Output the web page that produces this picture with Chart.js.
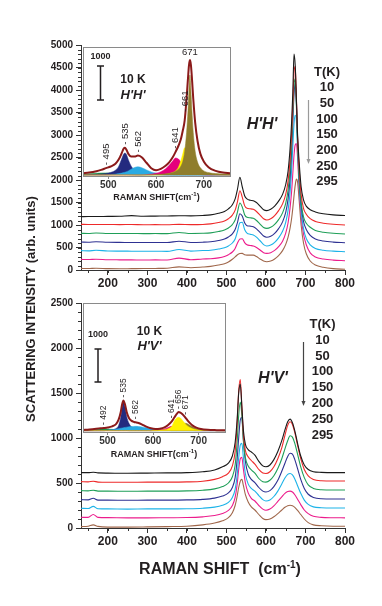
<!DOCTYPE html>
<html>
<head>
<meta charset="utf-8">
<title>Raman spectra H'H' / H'V'</title>
<script src="https://cdn.jsdelivr.net/npm/chart.js@4.4.0/dist/chart.umd.min.js"></script>
<style>
  html, body { margin: 0; padding: 0; background: #fff; }
  #wrap { position: relative; width: 382px; height: 606px; }
  #wrap canvas { position: absolute; left: 0; top: 0; }
</style>
</head>
<body>
<div id="wrap">
  <canvas id="mainHH" width="382" height="606"></canvas>
  <canvas id="mainHV" width="382" height="606"></canvas>
  <canvas id="insetHH" width="382" height="606"></canvas>
  <canvas id="insetHV" width="382" height="606"></canvas>
</div>
<script>
// ---- data ----
const TEMPS = ['10', '50', '100', '150', '200', '250', '295'];

// H'H' spectra (raman shift, intensity)
const HH_X = [132,150,170,200,230,260,290,320,350,380,410,440,460,480,495,505,515,522,528,534,540,546,552,560,568,576,585,594,602,612,622,632,642,650,656,661,665,668,671,674,677,680,684,689,695,702,712,725,745,770,800];
const HH_10K = [1185,1190,1188,1192,1195,1208,1195,1198,1200,1205,1203,1212,1225,1260,1300,1360,1450,1580,1800,2060,1850,1650,1580,1550,1540,1500,1420,1340,1320,1350,1420,1530,1680,1900,2200,2700,3300,3950,4800,4550,3800,3000,2400,1850,1560,1420,1340,1290,1250,1225,1210];
const HH_50K = [1015,1012,1010,1012,1008,1012,1005,1008,1006,1015,1008,1012,1025,1055,1090,1140,1220,1330,1520,1760,1620,1430,1370,1360,1348,1300,1220,1140,1112,1140,1210,1320,1470,1680,1980,2450,3050,3700,4400,4520,3850,2950,2250,1680,1370,1240,1140,1080,1040,1015,1000];
const HH_100K = [815,812,822,812,810,812,808,810,808,835,812,815,825,855,890,935,1010,1110,1290,1490,1400,1230,1170,1160,1148,1100,1020,945,925,950,1015,1120,1270,1480,1780,2230,2850,3500,4100,4250,3650,2800,2050,1500,1180,1040,950,880,840,815,800];
const HH_150K = [622,618,628,615,613,612,610,612,610,640,612,618,628,655,690,735,805,900,1060,1250,1200,1050,985,975,963,915,835,755,728,750,815,920,1070,1280,1580,2030,2650,3300,3900,4150,3750,2900,2050,1450,1080,900,770,690,645,620,607];
const HH_200K = [430,425,438,422,420,418,416,418,415,455,420,432,440,465,495,535,600,690,860,1050,1060,900,820,795,778,730,650,565,535,555,615,715,860,1060,1330,1730,2230,2750,3250,3440,3300,2700,1900,1300,920,700,560,480,440,420,407];
const HH_250K = [237,232,240,228,226,225,222,224,222,265,228,245,250,270,300,340,400,480,600,690,695,610,560,545,533,500,445,385,370,385,435,520,640,820,1050,1380,1750,2150,2550,2780,2810,2500,1800,1200,800,560,380,290,245,220,207];
const HH_295K = [37,32,40,30,28,30,32,35,40,70,50,65,80,110,140,180,240,290,340,365,370,340,330,330,330,300,245,200,185,200,245,320,430,570,730,930,1150,1380,1650,1880,2020,1960,1550,1000,600,360,200,110,60,30,15];

// H'V' spectra
const HV_X = [132,150,163,175,200,250,300,350,400,440,470,490,505,515,522,527,531,535,539,543,548,555,563,572,582,592,600,610,620,630,640,648,655,661,667,673,680,688,697,707,720,740,770,800];
const HV_10K = [615,615,620,612,610,608,610,612,615,625,645,680,720,800,950,1200,1500,1600,1350,1080,930,870,845,810,740,690,680,700,760,850,970,1090,1180,1210,1170,1080,940,800,700,650,625,618,615,615];
const HV_50K = [515,512,520,510,508,508,510,510,512,520,540,570,610,690,850,1150,1520,1650,1350,1030,860,790,750,710,650,610,605,625,680,770,890,1030,1140,1180,1150,1060,920,770,650,580,540,525,522,522];
const HV_100K = [415,412,420,410,410,408,410,410,412,420,435,460,500,570,700,950,1250,1400,1250,960,780,690,645,610,550,515,510,530,580,660,770,880,970,1025,1010,940,820,680,560,480,440,425,422,422];
const HV_150K = [315,312,330,310,310,308,310,310,312,318,332,355,390,450,560,760,1000,1200,1230,980,740,600,540,505,450,410,400,415,460,530,630,720,795,830,820,760,660,540,440,375,340,325,322,322];
const HV_200K = [219,216,240,214,212,210,212,212,214,220,232,252,285,340,430,580,780,920,940,780,600,490,440,410,360,315,300,312,350,410,490,555,595,605,590,545,470,385,310,262,235,225,222,222];
const HV_250K = [119,118,150,118,115,112,112,114,116,124,138,160,195,250,340,480,650,770,785,650,500,390,330,300,250,210,197,210,245,295,345,385,405,410,400,370,320,260,200,160,130,118,114,113];
const HV_295K = [15,20,35,18,10,10,12,15,20,35,55,80,115,170,250,350,450,520,540,470,370,290,235,200,150,105,93,100,125,160,200,230,248,252,248,230,195,150,100,60,35,25,20,20];

// 10 K fits, H'H' inset
const INS_HH_X = [447,460,475,485,495,505,515,522,528,532,535,538,542,548,555,562,570,580,590,600,610,620,628,635,641,647,652,656,660,664,667,669,671,673,675,678,682,687,693,700,710,725,740,755];
const INS_HH_TOTAL = [50,70,110,150,200,250,330,460,640,770,800,740,620,540,540,570,520,360,200,140,180,270,380,520,680,860,1050,1300,1600,2250,2850,3220,3380,3250,2900,2250,1550,1000,620,400,230,120,70,50];
const INS_HH_495 = [20,35,50,58,60,55,45,35,28,22,18,15,12,8,4,0,0,0,0,0,0,0,0,0,0,0,0,0,0,0,0,0,0,0,0,0,0,0,0,0,0,0,0,0];
const INS_HH_535 = [0,10,20,30,45,75,140,260,470,610,650,600,450,260,150,95,60,35,20,10,5,0,0,0,0,0,0,0,0,0,0,0,0,0,0,0,0,0,0,0,0,0,0,0];
const INS_HH_562 = [0,0,0,0,0,10,25,40,55,70,80,95,120,170,220,240,215,150,90,55,30,15,8,0,0,0,0,0,0,0,0,0,0,0,0,0,0,0,0,0,0,0,0,0];
const INS_HH_641 = [0,0,0,0,0,0,0,0,0,0,0,0,0,0,0,0,0,10,25,50,95,180,290,410,500,470,380,300,230,170,130,110,95,80,70,55,40,25,15,8,0,0,0,0];
const INS_HH_661 = [0,0,0,0,0,0,0,0,0,0,0,0,0,0,0,0,0,0,0,0,0,20,40,70,120,230,420,620,800,760,620,520,430,350,290,210,140,85,50,30,15,5,0,0];
const INS_HH_671 = [0,0,0,0,0,0,0,0,0,0,0,0,0,0,0,0,0,0,0,15,20,35,50,75,110,170,260,400,680,1250,1900,2500,2940,2500,1950,1250,700,380,210,120,70,40,30,25];
const PEAKS_HH = [495, 535, 562, 641, 661, 671];

// 10 K fits, H'V' inset
const INS_HV_X = [446,460,475,485,492,500,510,518,524,529,532,535,538,542,547,552,558,562,568,575,585,595,605,615,625,633,641,647,652,656,660,664,668,671,675,680,687,695,705,720,740,758];
const INS_HV_TOTAL = [20,35,55,70,80,95,130,190,320,560,790,900,800,560,380,300,260,250,230,190,120,70,50,60,100,170,280,400,500,560,540,500,440,390,320,240,150,90,50,25,15,10];
const INS_HV_492 = [15,25,40,50,55,50,40,30,22,15,12,10,8,5,0,0,0,0,0,0,0,0,0,0,0,0,0,0,0,0,0,0,0,0,0,0,0,0,0,0,0,0];
const INS_HV_535 = [0,0,0,0,0,10,25,60,150,400,700,850,720,420,220,120,70,50,30,18,8,0,0,0,0,0,0,0,0,0,0,0,0,0,0,0,0,0,0,0,0,0];
const INS_HV_562 = [0,0,0,0,0,15,30,45,60,72,80,88,95,105,115,123,128,130,125,112,88,62,40,25,15,8,0,0,0,0,0,0,0,0,0,0,0,0,0,0,0,0];
const INS_HV_641 = [0,0,0,0,0,0,0,0,0,0,0,0,0,0,0,0,0,0,0,0,0,0,10,25,55,95,130,115,90,70,55,40,30,25,18,10,5,0,0,0,0,0];
const INS_HV_656 = [0,0,0,0,0,0,0,0,0,0,0,0,0,0,0,0,0,0,0,0,0,0,10,20,30,60,130,300,380,400,380,320,250,200,150,100,55,30,15,5,0,0];
const INS_HV_671 = [0,0,0,0,0,0,0,0,0,0,0,0,0,0,0,0,0,0,0,0,0,0,0,5,15,25,45,70,100,130,165,200,218,220,210,170,110,65,35,15,5,0];
const PEAKS_HV = [492, 535, 562, 641, 656, 671];

const XTICKS_MAIN = [200, 300, 400, 500, 600, 700, 800];
const YTICKS_HH = [0, 500, 1000, 1500, 2000, 2500, 3000, 3500, 4000, 4500, 5000];
const YTICKS_HV = [0, 500, 1000, 1500, 2000, 2500];
const XTICKS_INSET = [500, 600, 700];

// ---- styles ----
const FONT = "'Liberation Sans', Arial, Helvetica, sans-serif";
const INK = '#231f20';
const SERIES_COLORS = ['#1a1a1a', '#ee2a2a', '#1f9f58', '#2e3192', '#1db3e8', '#ec1c8c', '#a0674b'];
const FIT_COLORS = { green: '#1e9b48', navy: '#232a7f', cyan: '#2aaae2', magenta: '#e4007c', yellow: '#fff200', olive: '#8f7d2c' };

Chart.defaults.font.family = FONT;
Chart.defaults.color = INK;

function fixedTicks(values) {
    return scale => { scale.ticks = values.map(v => ({ value: v })); };
}

function pts(xs, ys) {
    return xs.map((x, i) => ({ x: x, y: ys[i] }));
}

function valueAt(xs, ys, x) {
    for (let i = 1; i < xs.length; i++) {
        if (xs[i] >= x) {
            const t = (x - xs[i - 1]) / (xs[i] - xs[i - 1]);
            return ys[i - 1] + t * (ys[i] - ys[i - 1]);
        }
    }
    return ys[ys.length - 1];
}

// title with a "-1" superscript, cy is the baseline
function drawUnitTitle(ctx, head, cx, cy, size) {
    const sup = Math.round(size * 0.62);
    ctx.font = `bold ${size}px ${FONT}`;
    const w1 = ctx.measureText(head).width;
    const w3 = ctx.measureText(')').width;
    ctx.font = `bold ${sup}px ${FONT}`;
    const w2 = ctx.measureText('-1').width;
    const x0 = cx - (w1 + w2 + w3) / 2;
    ctx.textAlign = 'left';
    ctx.textBaseline = 'alphabetic';
    ctx.font = `bold ${size}px ${FONT}`;
    ctx.fillText(head, x0, cy);
    ctx.font = `bold ${sup}px ${FONT}`;
    ctx.fillText('-1', x0 + w1, cy - size * 0.4);
    ctx.font = `bold ${size}px ${FONT}`;
    ctx.fillText(')', x0 + w1 + w2, cy);
}

// ---- plugins ----
const minorTicks = {
    id: 'minorTicks',
    afterDraw(chart, args, o) {
        const { ctx, scales: { x, y } } = chart;
        ctx.save();
        ctx.strokeStyle = '#333';
        ctx.lineWidth = 1;
        ctx.beginPath();
        for (let v = Math.ceil(x.min / o.x) * o.x; v <= x.max; v += o.x) {
            const px = Math.round(x.getPixelForValue(v)) + 0.5;
            ctx.moveTo(px, x.top);
            ctx.lineTo(px, x.top + 3);
        }
        for (let v = 0; v <= y.max; v += o.y) {
            const py = Math.round(y.getPixelForValue(v)) + 0.5;
            ctx.moveTo(y.right, py);
            ctx.lineTo(y.right - 3, py);
        }
        ctx.stroke();
        ctx.restore();
    }
};

const panelDecor = {
    id: 'panelDecor',
    afterDraw(chart, args, o) {
        const ctx = chart.ctx;
        ctx.save();
        ctx.fillStyle = INK;
        ctx.textAlign = 'center';
        ctx.textBaseline = 'middle';
        ctx.font = `italic bold 16px ${FONT}`;
        ctx.fillText(o.label, o.labelX, o.labelY);

        ctx.font = `bold 13px ${FONT}`;
        ctx.fillText('T(K)', o.listX, o.listY);
        TEMPS.forEach((t, i) => ctx.fillText(t, o.listX, o.listY + (i + 1) * o.listStep));

        ctx.strokeStyle = o.arrowColor;
        ctx.fillStyle = o.arrowColor;
        ctx.lineWidth = 1.2;
        ctx.beginPath();
        ctx.moveTo(o.arrowX, o.arrowTop);
        ctx.lineTo(o.arrowX, o.arrowBottom - 4);
        ctx.stroke();
        ctx.beginPath();
        ctx.moveTo(o.arrowX - 2, o.arrowBottom - 5);
        ctx.lineTo(o.arrowX + 2, o.arrowBottom - 5);
        ctx.lineTo(o.arrowX, o.arrowBottom);
        ctx.closePath();
        ctx.fill();

        if (o.titles) {
            ctx.fillStyle = INK;
            drawUnitTitle(ctx, 'RAMAN SHIFT  (cm', 220, 574, 16);
            ctx.save();
            ctx.translate(31, 309);
            ctx.rotate(-Math.PI / 2);
            ctx.font = `bold 13px ${FONT}`;
            ctx.textAlign = 'center';
            ctx.textBaseline = 'middle';
            ctx.fillText('SCATTERING INTENSITY (arb. units)', 0, 0);
            ctx.restore();
        }
        ctx.restore();
    }
};

const insetDecor = {
    id: 'insetDecor',
    beforeDraw(chart) {
        const a = chart.chartArea;
        chart.ctx.save();
        chart.ctx.fillStyle = '#fff';
        chart.ctx.fillRect(a.left, a.top, a.right - a.left, a.bottom - a.top);
        chart.ctx.restore();
    },
    afterDatasetsDraw(chart, args, o) {
        const { ctx, scales: { x, y } } = chart;
        ctx.save();
        ctx.fillStyle = INK;
        ctx.font = `${o.peakFont}px ${FONT}`;
        o.peaks.forEach((p, i) => {
            const px = x.getPixelForValue(p);
            const py = y.getPixelForValue(valueAt(o.xs, o.total, p)) - 3;
            if (o.flatLast && i === o.peaks.length - 1) {
                ctx.textAlign = 'center';
                ctx.textBaseline = 'bottom';
                ctx.fillText(String(p), px, py);
            } else {
                ctx.save();
                ctx.translate(px, py);
                ctx.rotate(-Math.PI / 2);
                ctx.textAlign = 'left';
                ctx.textBaseline = 'middle';
                ctx.fillText('- ' + p, 0, 0);
                ctx.restore();
            }
        });

        // 1000 counts scale bar
        const bx = o.barX;
        const b0 = Math.round(y.getPixelForValue(o.barFrom));
        const b1 = Math.round(y.getPixelForValue(o.barFrom + 1000));
        ctx.strokeStyle = INK;
        ctx.lineWidth = 1.5;
        ctx.beginPath();
        ctx.moveTo(bx, b0); ctx.lineTo(bx, b1);
        ctx.moveTo(bx - 3.5, b0); ctx.lineTo(bx + 3.5, b0);
        ctx.moveTo(bx - 3.5, b1); ctx.lineTo(bx + 3.5, b1);
        ctx.stroke();
        ctx.font = `bold 9px ${FONT}`;
        ctx.textAlign = 'center';
        ctx.textBaseline = 'middle';
        ctx.fillText('1000', bx, o.barLabelY);

        ctx.font = `bold 12px ${FONT}`;
        ctx.fillText('10 K', o.tagX, o.tagY);
        ctx.font = `italic bold 13px ${FONT}`;
        ctx.fillText(o.mode, o.tagX, o.tagY + o.tagStep);
        ctx.restore();
    },
    afterDraw(chart, args, o) {
        const { ctx, chartArea: a } = chart;
        ctx.save();
        ctx.strokeStyle = '#8a8a8a';
        ctx.lineWidth = 1;
        ctx.strokeRect(Math.round(a.left) + 0.5, Math.round(a.top) + 0.5,
            Math.round(a.right - a.left), Math.round(a.bottom - a.top));
        ctx.fillStyle = INK;
        drawUnitTitle(ctx, 'RAMAN SHIFT(cm', (a.left + a.right) / 2, o.titleY, 9);
        ctx.restore();
    }
};

// ---- builders ----
function buildMain(id, xs, series, yTicks, box, decor) {
    const datasets = series.map((ys, i) => ({
        data: pts(xs, ys),
        borderColor: SERIES_COLORS[i],
        borderWidth: 1.1,
        pointRadius: 0,
        cubicInterpolationMode: 'monotone',
        order: i
    }));
    return new Chart(document.getElementById(id), {
        type: 'line',
        data: { datasets },
        options: {
            responsive: false,
            animation: false,
            events: [],
            layout: { padding: { left: box.left - 40, right: 382 - box.right, top: box.top, bottom: 606 - box.bottom - 30 } },
            scales: {
                x: {
                    type: 'linear', min: 132, max: 800,
                    afterBuildTicks: fixedTicks(XTICKS_MAIN),
                    afterFit: s => { s.height = 30; },
                    grid: { drawOnChartArea: false, tickLength: 5, color: '#333' },
                    border: { color: '#333', width: 1 },
                    ticks: { font: { size: 12, weight: 'bold' }, padding: 1, maxRotation: 0, autoSkip: false, callback: v => String(v) }
                },
                y: {
                    type: 'linear', min: 0, max: yTicks[yTicks.length - 1],
                    afterBuildTicks: fixedTicks(yTicks),
                    afterFit: s => { s.width = 40; },
                    grid: { drawOnChartArea: false, tickLength: 5, color: '#333' },
                    border: { color: '#333', width: 1 },
                    ticks: { font: { size: 10, weight: 'bold' }, padding: 3, autoSkip: false, callback: v => String(v) }
                }
            },
            plugins: {
                legend: { display: false },
                tooltip: { enabled: false },
                minorTicks: { x: 50, y: 100 },
                panelDecor: decor
            }
        },
        plugins: [minorTicks, panelDecor]
    });
}

function buildInset(id, xs, total, comps, xRange, yRange, box, decor) {
    const datasets = [{
        data: pts(xs, total),
        borderColor: '#8b1a1a',
        borderWidth: 2,
        pointRadius: 0,
        fill: false,
        cubicInterpolationMode: 'monotone',
        order: 0
    }];
    comps.forEach(c => datasets.push({
        data: pts(xs, c.values),
        borderColor: c.color,
        backgroundColor: c.color,
        borderWidth: 0.5,
        pointRadius: 0,
        fill: 'origin',
        cubicInterpolationMode: 'monotone',
        order: c.order
    }));
    decor.xs = xs;
    decor.total = total;
    return new Chart(document.getElementById(id), {
        type: 'line',
        data: { datasets },
        options: {
            responsive: false,
            animation: false,
            events: [],
            layout: { padding: { left: box.left, right: 382 - box.right, top: box.top, bottom: 606 - box.bottom - 20 } },
            scales: {
                x: {
                    type: 'linear', min: xRange[0], max: xRange[1],
                    afterBuildTicks: fixedTicks(XTICKS_INSET),
                    afterFit: s => { s.height = 20; },
                    grid: { drawOnChartArea: false, tickLength: 3, color: '#8a8a8a' },
                    border: { display: false },
                    ticks: { font: { size: 10, weight: 'bold' }, color: '#333', padding: 0, maxRotation: 0, autoSkip: false, callback: v => String(v) }
                },
                y: { type: 'linear', display: false, min: yRange[0], max: yRange[1] }
            },
            plugins: {
                legend: { display: false },
                tooltip: { enabled: false },
                insetDecor: decor
            }
        },
        plugins: [insetDecor]
    });
}

// ---- charts ----
buildMain('mainHH', HH_X, [HH_10K, HH_50K, HH_100K, HH_150K, HH_200K, HH_250K, HH_295K], YTICKS_HH,
    { left: 81, right: 345, top: 45, bottom: 270 },
    { label: "H'H'", labelX: 262, labelY: 125, listX: 327, listY: 72, listStep: 15.7,
      arrowX: 308.5, arrowTop: 100, arrowBottom: 164, arrowColor: '#9a9a9a', titles: false });

buildMain('mainHV', HV_X, [HV_10K, HV_50K, HV_100K, HV_150K, HV_200K, HV_250K, HV_295K], YTICKS_HV,
    { left: 81, right: 345, top: 303, bottom: 528 },
    { label: "H'V'", labelX: 273, labelY: 379, listX: 322.5, listY: 324.5, listStep: 15.8,
      arrowX: 303.5, arrowTop: 342, arrowBottom: 406, arrowColor: '#444', titles: true });

buildInset('insetHH', INS_HH_X, INS_HH_TOTAL, [
    { values: INS_HH_671, color: FIT_COLORS.olive, order: 1 },
    { values: INS_HH_661, color: FIT_COLORS.yellow, order: 2 },
    { values: INS_HH_641, color: FIT_COLORS.magenta, order: 3 },
    { values: INS_HH_562, color: FIT_COLORS.cyan, order: 4 },
    { values: INS_HH_535, color: FIT_COLORS.navy, order: 5 },
    { values: INS_HH_495, color: FIT_COLORS.green, order: 6 }
], [447, 755], [-30, 3765], { left: 83, right: 230, top: 47, bottom: 176 },
    { peaks: PEAKS_HH, flatLast: true, peakFont: 9.5, barX: 100.5, barFrom: 2200, barLabelY: 57,
      tagX: 133, tagY: 80, tagStep: 15, mode: "H'H'", titleY: 200 });

buildInset('insetHV', INS_HV_X, INS_HV_TOTAL, [
    { values: INS_HV_656, color: FIT_COLORS.yellow, order: 1 },
    { values: INS_HV_671, color: FIT_COLORS.olive, order: 2 },
    { values: INS_HV_641, color: FIT_COLORS.magenta, order: 3 },
    { values: INS_HV_562, color: FIT_COLORS.cyan, order: 4 },
    { values: INS_HV_535, color: FIT_COLORS.navy, order: 5 },
    { values: INS_HV_492, color: FIT_COLORS.green, order: 6 }
], [446, 758], [-40, 3820], { left: 83, right: 225, top: 303, bottom: 432 },
    { peaks: PEAKS_HV, flatLast: false, peakFont: 8.5, barX: 98, barFrom: 1450, barLabelY: 335,
      tagX: 149.5, tagY: 332, tagStep: 14.5, mode: "H'V'", titleY: 457 });
</script>
</body>
</html>
